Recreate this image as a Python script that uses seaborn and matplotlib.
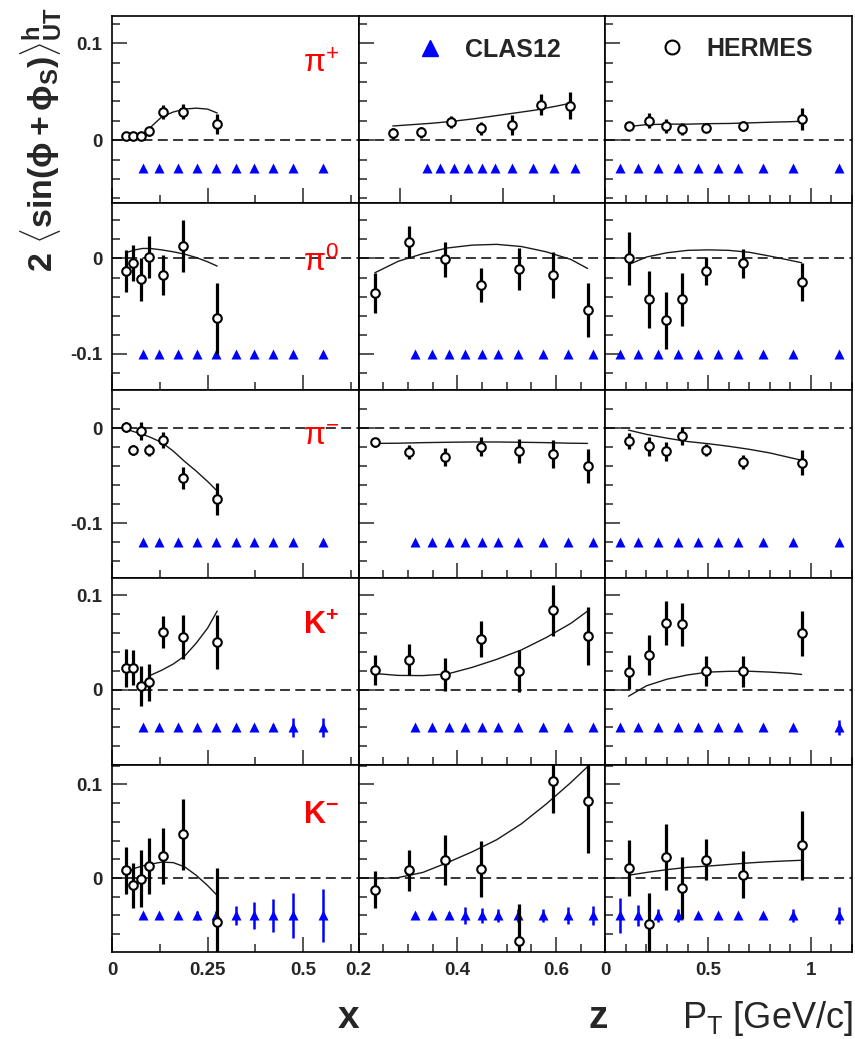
import numpy as np
import pandas as pd
import matplotlib
matplotlib.use("Agg")
import matplotlib.pyplot as plt
import seaborn as sns
from matplotlib.ticker import MultipleLocator, FuncFormatter
from matplotlib.lines import Line2D

# ---------------------------------------------------------------- data
# HERMES bin centres for each kinematic variable
HERMES_X = [0.036, 0.056, 0.076, 0.098, 0.133, 0.186, 0.275]
HERMES_Z = [0.233, 0.302, 0.374, 0.447, 0.524, 0.594, 0.664]
HERMES_PT = [0.113, 0.212, 0.296, 0.372, 0.490, 0.671, 0.955]

# CLAS12 projected bin centres
CLAS_X = [0.081, 0.123, 0.173, 0.223, 0.273, 0.323, 0.372, 0.422, 0.472, 0.552]
CLAS_Z = [0.315, 0.349, 0.383, 0.416, 0.450, 0.482, 0.523, 0.573, 0.624, 0.676]
CLAS_PT = [0.071, 0.159, 0.254, 0.354, 0.451, 0.549, 0.647, 0.769, 0.914, 1.136]

# vertical position of the projected CLAS12 points in each hadron row
CLAS_LEVEL = [-0.029, -0.100, -0.120, -0.040, -0.040]

# grids on which the model curves are tabulated
GRID_X = [0.036, 0.06, 0.08, 0.10, 0.13, 0.16, 0.19, 0.22, 0.25, 0.275]
GRID_Z = [0.233, 0.28, 0.33, 0.38, 0.43, 0.48, 0.53, 0.58, 0.63, 0.664]
GRID_PT = [0.113, 0.2, 0.3, 0.4, 0.5, 0.6, 0.7, 0.8, 0.9, 0.955]

# pi+
PIP_X_ASY = [0.0045, 0.004, 0.0045, 0.009, 0.0288, 0.0295, 0.0167]
PIP_X_ERR = [0.003, 0.003, 0.004, 0.005, 0.007, 0.008, 0.010]
PIP_X_CURVE = [0.002, 0.003, 0.006, 0.013, 0.024, 0.029, 0.032, 0.033, 0.032, 0.028]
PIP_Z_ASY = [0.0069, 0.0079, 0.019, 0.0121, 0.0156, 0.0365, 0.0357]
PIP_Z_ERR = [0.006, 0.006, 0.006, 0.007, 0.010, 0.011, 0.014]
PIP_Z_CURVE = [0.0146, 0.016, 0.0175, 0.0195, 0.022, 0.025, 0.028, 0.031, 0.035, 0.038]
PIP_PT_ASY = [0.0149, 0.0201, 0.0146, 0.0115, 0.0121, 0.0149, 0.0219]
PIP_PT_ERR = [0.004, 0.008, 0.007, 0.006, 0.004, 0.005, 0.011]
PIP_PT_CURVE = [0.014, 0.016, 0.0165, 0.0165, 0.017, 0.0172, 0.0178, 0.0185, 0.019, 0.0195]

# pi0
PI0_X_ASY = [-0.0133, -0.0045, -0.022, 0.0018, -0.0178, 0.0129, -0.063]
PI0_X_ERR = [0.022, 0.019, 0.023, 0.022, 0.021, 0.027, 0.037]
PI0_X_CURVE = [0.006, 0.009, 0.0105, 0.0105, 0.009, 0.007, 0.0045, 0.001, -0.0035, -0.008]
PI0_Z_ASY = [-0.036, 0.0171, -0.001, -0.028, -0.0115, -0.0175, -0.054]
PI0_Z_ERR = [0.021, 0.0166, 0.018, 0.0175, 0.022, 0.024, 0.0285]
PI0_Z_CURVE = [-0.015, -0.003, 0.005, 0.011, 0.014, 0.0148, 0.0125, 0.007, -0.001, -0.0105]
PI0_PT_ASY = [0.0, -0.043, -0.0647, -0.043, -0.0133, -0.0052, -0.0249]
PI0_PT_ERR = [0.0275, 0.030, 0.030, 0.028, 0.015, 0.015, 0.020]
PI0_PT_CURVE = [-0.0065, 0.0015, 0.006, 0.0085, 0.009, 0.0085, 0.0065, 0.0025, -0.002, -0.0045]

# pi-
PIM_X_ASY = [0.001, -0.023, -0.003, -0.023, -0.0124, -0.052, -0.0745]
PIM_X_ERR = [0.005, 0.005, 0.0095, 0.006, 0.008, 0.0115, 0.017]
PIM_X_CURVE = [-0.001, -0.004, -0.0065, -0.0095, -0.015, -0.024, -0.035, -0.045, -0.056, -0.066]
PIM_Z_ASY = [-0.0149, -0.0249, -0.0302, -0.0196, -0.0241, -0.0273, -0.0401]
PIM_Z_ERR = [0.005, 0.007, 0.0095, 0.010, 0.013, 0.015, 0.018]
PIM_Z_CURVE = [-0.016, -0.0158, -0.0152, -0.0148, -0.0145, -0.0145, -0.0148, -0.0152, -0.0158, -0.016]
PIM_PT_ASY = [-0.0131, -0.0188, -0.0241, -0.0082, -0.023, -0.0355, -0.0362]
PIM_PT_ERR = [0.0085, 0.010, 0.010, 0.009, 0.006, 0.0075, 0.013]
PIM_PT_CURVE = [-0.002, -0.0065, -0.0105, -0.014, -0.0163, -0.019, -0.0222, -0.026, -0.031, -0.0337]

# K+
KP_X_ASY = [0.023, 0.023, 0.0035, 0.0078, 0.0608, 0.0555, 0.0502]
KP_X_ERR = [0.020, 0.0185, 0.021, 0.0195, 0.0173, 0.023, 0.0286]
KP_X_CURVE = [np.nan, np.nan, np.nan, 0.015, 0.0205, 0.027, 0.0355, 0.049, 0.065, 0.083]
KP_Z_ASY = [0.0205, 0.0318, 0.0159, 0.053, 0.0194, 0.0841, 0.0565]
KP_Z_ERR = [0.016, 0.016, 0.017, 0.019, 0.022, 0.027, 0.0306]
KP_Z_CURVE = [0.017, 0.015, 0.0148, 0.0165, 0.0235, 0.032, 0.042, 0.055, 0.070, 0.083]
KP_PT_ASY = [0.0183, 0.0364, 0.070, 0.069, 0.0194, 0.0194, 0.0594]
KP_PT_ERR = [0.018, 0.021, 0.0233, 0.0225, 0.016, 0.0166, 0.024]
KP_PT_CURVE = [-0.007, 0.004, 0.011, 0.0155, 0.0185, 0.0193, 0.0194, 0.0185, 0.0172, 0.016]

# K-
KM_X_ASY = [0.0082, -0.0078, -0.0006, 0.0125, 0.0232, 0.0466, -0.047]
KM_X_ERR = [0.0254, 0.0238, 0.0306, 0.030, 0.030, 0.038, 0.058]
KM_X_CURVE = [0.006, 0.0105, 0.013, 0.0148, 0.017, 0.0165, 0.012, 0.003, -0.008, -0.0185]
KM_Z_ASY = [-0.0124, 0.0082, 0.0189, 0.010, -0.0672, 0.1032, 0.0819]
KM_Z_ERR = [0.020, 0.0217, 0.0267, 0.030, 0.040, 0.0334, 0.0546]
KM_Z_CURVE = [-0.0007, 0.0005, 0.006, 0.0165, 0.028, 0.041, 0.058, 0.079, 0.102, 0.119]
KM_PT_ASY = [0.0111, -0.0494, 0.0224, -0.0107, 0.0196, 0.0036, 0.0349]
KM_PT_ERR = [0.030, 0.033, 0.0356, 0.033, 0.022, 0.025, 0.037]
KM_PT_CURVE = [0.003, 0.006, 0.009, 0.0115, 0.0128, 0.0145, 0.0162, 0.0175, 0.0185, 0.019]

# projected CLAS12 statistical uncertainties (kaons only are visible)
ZERO10 = [0.0] * 10
KP_X_CLAS_ERR = [0, 0, 0, 0, 0, 0, 0, 0.004, 0.010, 0.010]
KP_PT_CLAS_ERR = [0, 0, 0, 0, 0, 0, 0, 0, 0, 0.008]
KM_X_CLAS_ERR = [0, 0, 0, 0.005, 0.005, 0.010, 0.014, 0.0175, 0.024, 0.028]
KM_Z_CLAS_ERR = [0, 0, 0.004, 0.009, 0.008, 0.007, 0.007, 0.007, 0.009, 0.010]
KM_PT_CLAS_ERR = [0.019, 0.011, 0.007, 0.007, 0, 0, 0, 0, 0.007, 0.009]

HADRON_LABELS = ["π$^{+}$", "π$^{0}$", "π$^{-}$", "K$^{+}$", "K$^{-}$"]
HADRON_LABEL_Y = [0.70, 0.64, 0.71, 0.70, 0.69]

# ---------------------------------------------------------------- tables
rows = [
    [(PIP_X_ASY, PIP_X_ERR, PIP_X_CURVE, ZERO10),
     (PIP_Z_ASY, PIP_Z_ERR, PIP_Z_CURVE, ZERO10),
     (PIP_PT_ASY, PIP_PT_ERR, PIP_PT_CURVE, ZERO10)],
    [(PI0_X_ASY, PI0_X_ERR, PI0_X_CURVE, ZERO10),
     (PI0_Z_ASY, PI0_Z_ERR, PI0_Z_CURVE, ZERO10),
     (PI0_PT_ASY, PI0_PT_ERR, PI0_PT_CURVE, ZERO10)],
    [(PIM_X_ASY, PIM_X_ERR, PIM_X_CURVE, ZERO10),
     (PIM_Z_ASY, PIM_Z_ERR, PIM_Z_CURVE, ZERO10),
     (PIM_PT_ASY, PIM_PT_ERR, PIM_PT_CURVE, ZERO10)],
    [(KP_X_ASY, KP_X_ERR, KP_X_CURVE, KP_X_CLAS_ERR),
     (KP_Z_ASY, KP_Z_ERR, KP_Z_CURVE, ZERO10),
     (KP_PT_ASY, KP_PT_ERR, KP_PT_CURVE, KP_PT_CLAS_ERR)],
    [(KM_X_ASY, KM_X_ERR, KM_X_CURVE, KM_X_CLAS_ERR),
     (KM_Z_ASY, KM_Z_ERR, KM_Z_CURVE, KM_Z_CLAS_ERR),
     (KM_PT_ASY, KM_PT_ERR, KM_PT_CURVE, KM_PT_CLAS_ERR)],
]
hermes_bins = [HERMES_X, HERMES_Z, HERMES_PT]
clas_bins = [CLAS_X, CLAS_Z, CLAS_PT]
grids = [GRID_X, GRID_Z, GRID_PT]

YLIMS = [(-0.065, 0.128), (-0.1385, 0.058), (-0.157, 0.0397),
         (-0.0795, 0.1184), (-0.079, 0.121)]
XLIMS = [(0.0, 0.645), (0.2, 0.70), (0.0, 1.2)]
XMAJOR = [0.25, 0.2, 0.5]
XMINOR = [0.125, 0.05, 0.1]

# ---------------------------------------------------------------- style
sns.set_theme(style="ticks")
plt.rcParams["font.family"] = ["Liberation Sans", "DejaVu Sans"]
plt.rcParams["mathtext.fontset"] = "custom"
plt.rcParams["mathtext.rm"] = "Liberation Sans"
plt.rcParams["mathtext.bf"] = "Liberation Sans:bold"
plt.rcParams["mathtext.it"] = "Liberation Sans:italic"
plt.rcParams["mathtext.default"] = "regular"


def tick_fmt(v, _pos):
    if abs(v) < 1e-9:
        return "0"
    return "%g" % round(v, 4)


fig = plt.figure(figsize=(8.55, 10.39), dpi=100)
gs = fig.add_gridspec(5, 3, left=112 / 855, right=852 / 855,
                      top=1 - 16 / 1039, bottom=1 - 952 / 1039,
                      hspace=0, wspace=0)

for r in range(5):
    for c in range(3):
        ax = fig.add_subplot(gs[r, c])
        asy, err, curve, clas_err = rows[r][c]
        hx = hermes_bins[c]
        cx = clas_bins[c]
        grid = grids[c]

        # zero reference
        ax.axhline(0, color="black", lw=1.1, ls=(0, (6.5, 3.5)), zorder=1)

        # CLAS12 projections
        cy = [CLAS_LEVEL[r]] * len(cx)
        if any(e > 0 for e in clas_err):
            ax.errorbar(cx, cy, yerr=clas_err, fmt="none", ecolor="#0000ff",
                        elinewidth=1.8, capsize=0, zorder=2)
        sns.scatterplot(x=cx, y=cy, marker="^", s=52, color="#0000ff",
                        edgecolor="#0000ff", linewidth=0, ax=ax, zorder=2.5,
                        legend=False)

        # model curve
        cdf = pd.DataFrame({"v": grid, "a": curve}).dropna()
        sns.lineplot(data=cdf, x="v", y="a", ax=ax, color="#1a1a1a", lw=1.0,
                     sort=False, errorbar=None, zorder=3, legend=False)

        # HERMES data
        ax.errorbar(hx, asy, yerr=err, fmt="none", ecolor="black",
                    elinewidth=2.3, capsize=0, zorder=4)
        sns.scatterplot(x=hx, y=asy, marker="o", s=38, color="white",
                        edgecolor="black", linewidth=1.5, ax=ax, zorder=5,
                        legend=False)

        # axes ranges and ticks
        ax.set_ylim(*YLIMS[r])
        if r == 0 and c == 1:
            ax.set_xlim(0.15, 0.75)
            ax.xaxis.set_major_locator(MultipleLocator(0.25))
            ax.xaxis.set_minor_locator(MultipleLocator(0.125))
        else:
            ax.set_xlim(*XLIMS[c])
            ax.xaxis.set_major_locator(MultipleLocator(XMAJOR[c]))
            ax.xaxis.set_minor_locator(MultipleLocator(XMINOR[c]))
        ax.yaxis.set_major_locator(MultipleLocator(0.1))
        ax.yaxis.set_minor_locator(MultipleLocator(0.02))
        ax.xaxis.set_major_formatter(FuncFormatter(tick_fmt))
        ax.yaxis.set_major_formatter(FuncFormatter(tick_fmt))
        ax.tick_params(which="major", direction="in", length=11, width=1.1,
                       labelsize=13.5, pad=7, top=False, right=False)
        ax.tick_params(which="minor", direction="in", length=5.5, width=1.1,
                       top=False, right=False)
        ax.tick_params(labelbottom=(r == 4), labelleft=(c == 0))
        for lab in ax.get_xticklabels() + ax.get_yticklabels():
            lab.set_fontweight("bold")
        ax.set_xlabel("")
        ax.set_ylabel("")
        for sp in ax.spines.values():
            sp.set_linewidth(1.2)
            sp.set_color("black")

        if c == 0:
            bold = r >= 3
            ax.text(0.775, HADRON_LABEL_Y[r], HADRON_LABELS[r],
                    transform=ax.transAxes, color="#ff0000",
                    fontsize=23 if not bold else 22,
                    fontweight="bold" if bold else "normal",
                    ha="left", va="baseline")

        if r == 0 and c == 1:
            h = Line2D([], [], marker="^", ls="none", color="#0000ff", ms=11)
            ax.legend([h], ["CLAS12"], loc="center left",
                      bbox_to_anchor=(0.239, 0.818), frameon=False,
                      borderpad=0, borderaxespad=0, handlelength=1.0,
                      handletextpad=0.9, prop=dict(weight="bold", size=18))
        if r == 0 and c == 2:
            h = Line2D([], [], marker="o", ls="none", markerfacecolor="white",
                       markeredgecolor="black", markeredgewidth=1.5, ms=10)
            ax.legend([h], ["HERMES"], loc="center left",
                      bbox_to_anchor=(0.219, 0.826), frameon=False,
                      borderpad=0, borderaxespad=0, handlelength=1.0,
                      handletextpad=0.9, prop=dict(weight="bold", size=18))

# axis titles
fig.text(41 / 855, 1 - 139 / 1039,
         r"$\mathbf{2\ \langle sin(\phi+\phi_{S})\rangle^{h}_{UT}}$",
         rotation=90, ha="center", va="center", fontsize=24.5)
fig.text(349 / 855, 1 - 1028 / 1039, "x", fontsize=28, fontweight="bold",
         ha="center", va="baseline")
fig.text(598 / 855, 1 - 1028 / 1039, "z", fontsize=28, fontweight="bold",
         ha="center", va="baseline")
fig.text(853 / 855, 1 - 1028 / 1039, r"P$_{T}$ [GeV/c]", fontsize=26,
         ha="right", va="baseline")

fig.savefig("out.png", dpi=100)
